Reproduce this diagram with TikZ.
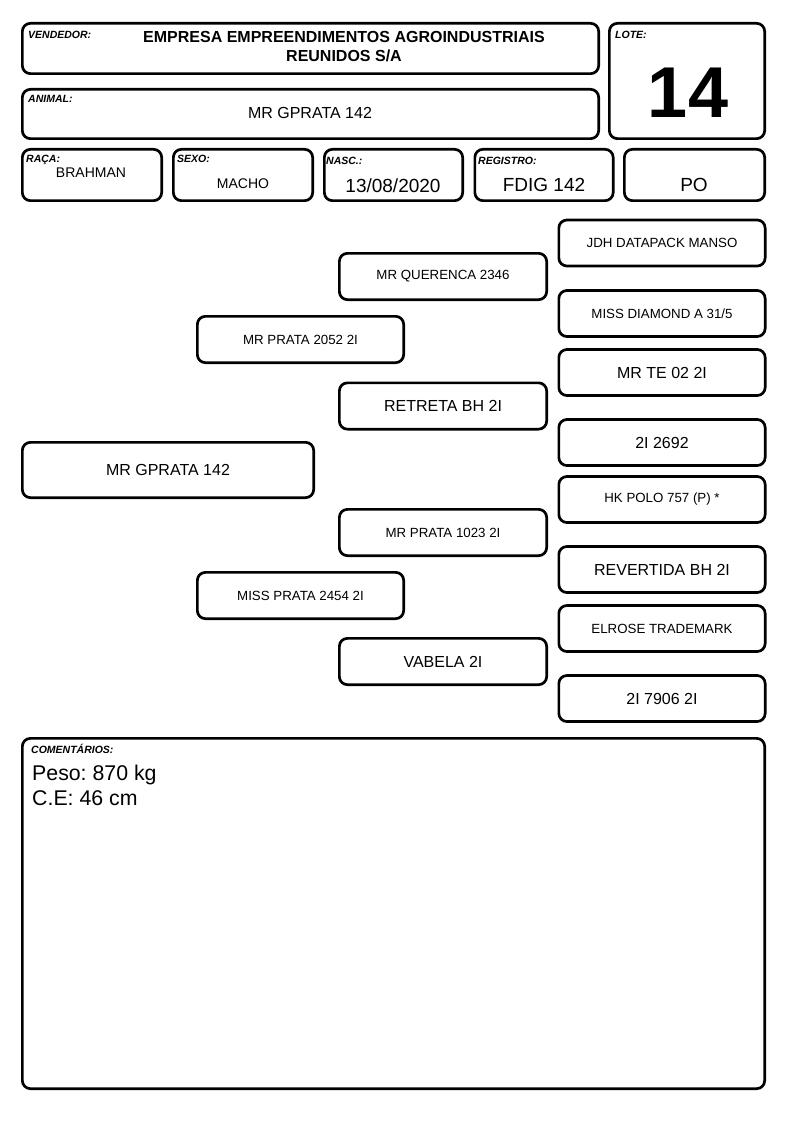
\documentclass[tikz,border=0pt]{standalone}
\usepackage{fontspec}
\setmainfont{Liberation Sans}
\usepackage{tikz}
\frenchspacing

\begin{document}
\begin{tikzpicture}[x=1pt,y=-1pt,line join=round,
	caixa/.style={draw,line width=2.7pt,rounded corners=8pt,inner sep=0pt,align=center},
	rotulo/.style={anchor=base west,inner sep=0pt,font=\fontsize{10.5}{12}\selectfont\bfseries\itshape},
	valor/.style={anchor=base,inner sep=0pt},
	grande/.style={font=\fontsize{16}{19}\selectfont},
	medio/.style={font=\fontsize{13.3}{16}\selectfont}]
	
	\useasboundingbox (0,0) rectangle (794,1123);
	
	\node[caixa,minimum width=576.3pt,minimum height=50.3pt] (vendedor) at (310.5,48.5) {};
	\node[caixa,minimum width=155.3pt,minimum height=115.3pt] (lote) at (687,81) {};
	\node[caixa,minimum width=576.3pt,minimum height=49.3pt] (animal) at (310.5,114) {};
	
	\node[rotulo] (lbvendedor) at (28,39) {VENDEDOR:};
	\node[valor,font=\fontsize{16}{19}\selectfont\bfseries] (empresa) at (344,43) {EMPRESA EMPREENDIMENTOS AGROINDUSTRIAIS};
	\node[valor,font=\fontsize{16}{19}\selectfont\bfseries] (empresab) at (344,62) {REUNIDOS S/A};
	\node[rotulo] (lblote) at (615,39) {LOTE:};
	\node[valor,font=\fontsize{72}{80}\selectfont\bfseries] (numlote) at (688,118) {14};
	\node[rotulo] (lbanimal) at (28,103) {ANIMAL:};
	\node[valor,grande] (nomeanimal) at (310,119) {MR GPRATA 142};
	
	\node[caixa,minimum width=139.3pt,minimum height=51.3pt] (raca) at (92,175) {};
	\node[caixa,minimum width=139.3pt,minimum height=51.3pt] (sexo) at (243,175) {};
	\node[caixa,minimum width=138.3pt,minimum height=51.3pt] (nasc) at (393.5,175) {};
	\node[caixa,minimum width=138.3pt,minimum height=51.3pt] (registro) at (544,175) {};
	\node[caixa,minimum width=140.3pt,minimum height=51.3pt] (po) at (694.5,175) {};
	
	\node[rotulo] (lbraca) at (26,163) {RAÇA:};
	\node[valor,font=\fontsize{14}{17}\selectfont] (vlraca) at (91,178) {BRAHMAN};
	\node[rotulo] (lbsexo) at (177,163) {SEXO:};
	\node[valor,font=\fontsize{14}{17}\selectfont] (vlsexo) at (243,189) {MACHO};
	\node[rotulo] (lbnasc) at (326,164.5) {NASC.:};
	\node[valor,font=\fontsize{19}{22}\selectfont] (vlnasc) at (393,193) {13/08/2020};
	\node[rotulo] (lbregistro) at (478,165) {REGISTRO:};
	\node[valor,font=\fontsize{19}{22}\selectfont] (vlregistro) at (544,192) {FDIG 142};
	\node[valor,font=\fontsize{19}{22}\selectfont] (vlpo) at (694,192) {PO};
	
	\node[caixa,grande,minimum width=291.3pt,minimum height=55.3pt] (filho) at (168,470) {MR GPRATA 142};
	
	\node[caixa,medio,minimum width=206.3pt,minimum height=46.3pt] (pai) at (300.5,339.5) {MR PRATA 2052 2I};
	\node[caixa,medio,minimum width=206.3pt,minimum height=46.3pt] (mae) at (300.5,595.5) {MISS PRATA 2454 2I};
	
	\node[caixa,medio,minimum width=207.3pt,minimum height=46.3pt] (avopp) at (443,276.5) {MR QUERENCA 2346};
	\node[caixa,grande,minimum width=207.3pt,minimum height=46.3pt] (avopm) at (443,406) {RETRETA BH 2I};
	\node[caixa,medio,minimum width=207.3pt,minimum height=46.3pt] (avomp) at (443,532.5) {MR PRATA 1023 2I};
	\node[caixa,grande,minimum width=207.3pt,minimum height=46.3pt] (avomm) at (443,661.5) {VABELA 2I};
	
	\node[caixa,medio,minimum width=206.3pt,minimum height=46pt] (bisa) at (662,243) {JDH DATAPACK MANSO};
	\node[caixa,medio,minimum width=206.3pt,minimum height=46pt] (bisb) at (662,313.5) {MISS DIAMOND A 31/5};
	\node[caixa,grande,minimum width=206.3pt,minimum height=46pt] (bisc) at (662,372.5) {MR TE 02 2I};
	\node[caixa,grande,minimum width=206.3pt,minimum height=46pt] (bisd) at (662,442.5) {2I 2692};
	\node[caixa,medio,minimum width=206.3pt,minimum height=46pt] (bise) at (662,499.5) {HK POLO 757 (P) *};
	\node[caixa,grande,minimum width=206.3pt,minimum height=46pt] (bisf) at (662,569.5) {REVERTIDA BH 2I};
	\node[caixa,medio,minimum width=206.3pt,minimum height=46pt] (bisg) at (662,628.5) {ELROSE TRADEMARK};
	\node[caixa,grande,minimum width=206.3pt,minimum height=46pt] (bish) at (662,698.5) {2I 7906 2I};
	
	\node[caixa,minimum width=742.3pt,minimum height=350.3pt] (comentarios) at (393.5,913.5) {};
	\node[rotulo] (lbcomentarios) at (31,753) {COMENTÁRIOS:};
	\node[anchor=base west,inner sep=0pt,font=\fontsize{21.3}{25}\selectfont] (peso) at (32,780) {Peso: 870 kg};
	\node[anchor=base west,inner sep=0pt,font=\fontsize{21.3}{25}\selectfont] (ce) at (32,805) {C.E: 46 cm};
\end{tikzpicture}
\end{document}
